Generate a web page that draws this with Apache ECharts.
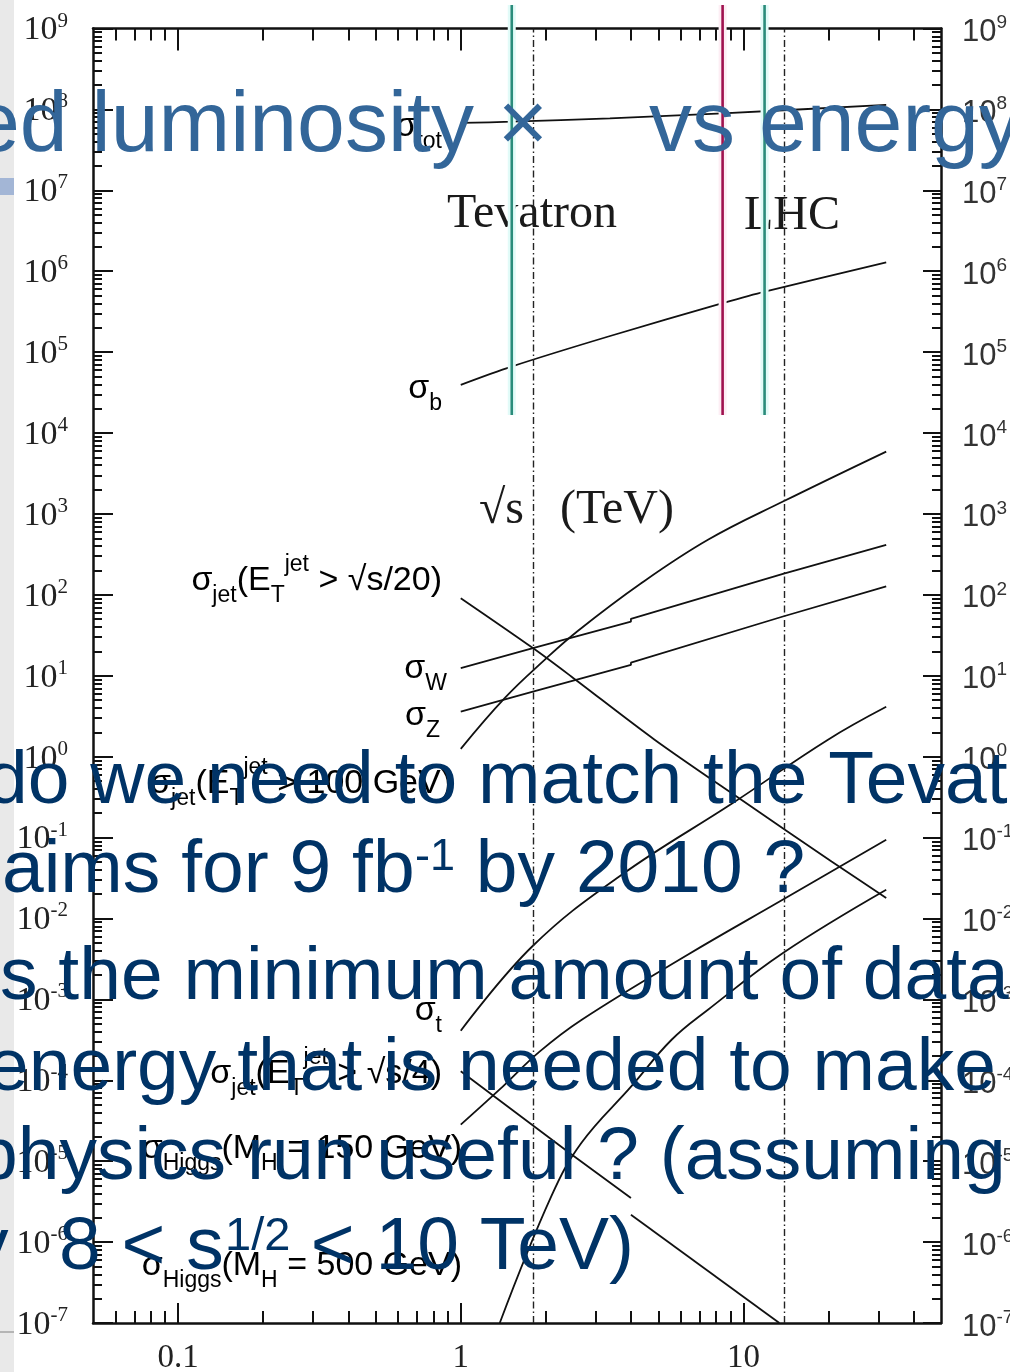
<!DOCTYPE html>
<html><head><meta charset="utf-8">
<script src="https://cdn.jsdelivr.net/npm/echarts@6/dist/echarts.min.js"></script>
<style>html,body{margin:0;padding:0;background:#fff}#c{width:1010px;height:1372px}</style>
</head><body><div id="c"></div>
<script>
// ---------- axis ticks ----------
const xMajorTicks = [0.1, 1, 10];
const xTickLabels = ['0.1', '1', '10'];
const xMinorTicks = [0.06,0.07,0.08,0.09,0.2,0.3,0.4,0.5,0.6,0.7,0.8,0.9,2,3,4,5,6,7,8,9,20,30,40];
const yDecades = [1e-7,1e-6,1e-5,1e-4,1e-3,1e-2,1e-1,1,1e1,1e2,1e3,1e4,1e5,1e6,1e7,1e8,1e9];
const yMinorMultipliers = [2,3,4,5,6,7,8,9];

// ---------- collider energies (TeV) ----------
const colliderEnergies = [1.8, 14];        // dashed lines: Tevatron, LHC
const markerEnergies = [1.515, 8.44, 11.88]; // coloured vertical markers
const markerLow = [1.67e4, 1.67e4, 1.67e4];
const markerHigh = [1.95e9, 1.95e9, 1.95e9];

// ---------- cross sections (nb) vs sqrt(s) (TeV) ----------
const sigmaTotE = [1.0, 1.51, 3.37, 8.44, 32];
const sigmaTotV = [6.8e7, 7.05e7, 7.76e7, 8.95e7, 1.135e8];
const sigmaBE = [1.0, 1.51, 3.33, 8.44, 11.9, 32];
const sigmaBV = [3.94e4, 6.62e4, 1.56e5, 4.02e5, 5.6e5, 1.29e6];
const jetS20E = [1.0, 1.8, 2.46, 4.85, 9.83, 20.5, 32];
const jetS20V = [91, 22, 9.8, 1.62, 0.293, 0.0507, 0.0179];
const sigmaWE = [1.0, 1.8, 4.0, 4.0, 13.8, 32];
const sigmaWV = [12.4, 22.0, 46.8, 50.5, 182, 415];
const sigmaZE = [1.0, 1.8, 4.0, 4.0, 13.8, 32];
const sigmaZV = [3.61, 6.38, 13.6, 14.5, 54.0, 127];
const jet100E = [1.0, 1.43, 1.98, 2.6, 4.36, 7.49, 13.8, 32];
const jet100V = [1.25, 5.3, 15.7, 36, 140, 479, 1422, 5900];
const sigmaTE = [1.0, 1.8, 3.71, 9.2, 19.85, 32];
const sigmaTV = [4.1e-4, 4.6e-3, 0.0347, 0.269, 1.61, 4.13];
const jetS4ppbarE = [1.0, 2.46, 4.0];
const jetS4ppbarV = [1.29e-4, 1.22e-5, 3.51e-6];
const jetS4ppE = [4.0, 13.4];
const jetS4ppV = [2.18e-6, 1.0e-7];
const higgs150E = [1.0, 1.37, 1.9, 2.68, 6.35, 13.76, 32];
const higgs150V = [2.83e-5, 7.65e-5, 2.26e-4, 5.61e-4, 3.56e-3, 0.0170, 0.094];
const higgs500E = [1.374, 2.09, 2.67, 4.01, 5.57, 7.49, 13.8, 32];
const higgs500V = [1e-7, 3.67e-6, 1.68e-5, 8.4e-5, 3.17e-4, 7.45e-4, 3.74e-3, 0.0226];

// ---------- build ----------
const L10 = Math.log10;
const zip = (xs, ys) => xs.map((x, i) => [x, ys[i]]);
const yMinorTicks = [];
yDecades.slice(0, -1).forEach(d => yMinorMultipliers.forEach(m => yMinorTicks.push(d * m)));

const curves = [
  [sigmaTotE, sigmaTotV, 0.3], [sigmaBE, sigmaBV, 0.3], [jetS20E, jetS20V, 0.3],
  [sigmaWE, sigmaWV, 0], [sigmaZE, sigmaZV, 0], [jet100E, jet100V, 0.4],
  [sigmaTE, sigmaTV, 0.4], [jetS4ppbarE, jetS4ppbarV, 0], [jetS4ppE, jetS4ppV, 0],
  [higgs150E, higgs150V, 0.4], [higgs500E, higgs500V, 0.4]
];

const series = curves.map(([e, v, sm], i) => ({
  type: 'line', xAxisIndex: 0, yAxisIndex: 0, data: zip(e, v),
  symbol: 'none', showSymbol: false, smooth: sm, clip: true, silent: true,
  lineStyle: { color: '#111', width: 1.8 }, z: 3, emphasis: { disabled: true },
  markLine: i === 0 ? {
    silent: true, symbol: ['none', 'none'], label: { show: false }, animation: false,
    lineStyle: { color: '#222', width: 1.4, type: [7, 3, 1.5, 3] },
    emphasis: { disabled: true },
    data: colliderEnergies.map(x => ({ xAxis: x }))
  } : undefined
}));

const markerColors = [
  { core: '#2b8c7b', glow: '#e2fbf8' },
  { core: '#a0124f', glow: '#fdeef4' },
  { core: '#2b8c7b', glow: '#e2fbf8' }
];
series.push({
  type: 'custom', xAxisIndex: 0, yAxisIndex: 0, z: 10, silent: true, clip: false,
  encode: { x: 0, y: [1, 2] },
  data: markerEnergies.map((x, i) => [x, markerLow[i], markerHigh[i]]),
  renderItem: function (params, api) {
    const p0 = api.coord([api.value(0), api.value(1)]);
    const p1 = api.coord([api.value(0), api.value(2)]);
    const c = markerColors[params.dataIndex];
    const shape = { x1: p0[0], y1: p0[1], x2: p1[0], y2: p1[1] };
    return { type: 'group', children: [
      { type: 'line', shape: shape, style: { stroke: c.glow, lineWidth: 8 } },
      { type: 'line', shape: shape, style: { stroke: c.core, lineWidth: 2.6 } }
    ] };
  }
});

const lx = [L10(0.05), L10(50)];
const ly = [L10(1e-7), L10(1e9)];
const frame = { color: '#111', width: 2.5 };
const tickStyle = { color: '#111', width: 2 };
const near = (arr, v) => arr.findIndex(t => Math.abs(L10(t) - v) < 1e-6);

function auxX(pos, len, ticks, withLine, withLabel) {
  return {
    type: 'value', min: lx[0], max: lx[1], position: pos, gridIndex: 0,
    axisLine: { show: withLine, onZero: false, lineStyle: frame },
    axisTick: { show: true, inside: true, length: len, customValues: ticks.map(L10), lineStyle: tickStyle },
    axisLabel: withLabel ? {
      show: true, customValues: ticks.map(L10), margin: 19,
      fontFamily: 'Liberation Serif', fontSize: 33, color: '#222',
      formatter: v => xTickLabels[near(xMajorTicks, v)]
    } : { show: false },
    splitLine: { show: false }
  };
}
function auxY(pos, len, ticks, withLine, labelKind) {
  let axisLabel = { show: false };
  if (labelKind === 'serif') {
    axisLabel = {
      show: true, customValues: ticks.map(L10), margin: 25, padding: [4, 0, 0, 0],
      formatter: v => '{b|10}{e|' + Math.round(v) + '}',
      rich: {
        b: { fontFamily: 'Liberation Serif', fontSize: 34, lineHeight: 40, color: '#222' },
        e: { fontFamily: 'Liberation Serif', fontSize: 21, lineHeight: 20, verticalAlign: 'top', color: '#222' }
      }
    };
  } else if (labelKind === 'sans') {
    axisLabel = {
      show: true, customValues: ticks.map(L10), margin: 21, padding: [8, 0, 0, 0],
      formatter: v => '{b|10}{e|' + Math.round(v) + '}',
      rich: {
        b: { fontFamily: 'Liberation Sans', fontSize: 31, lineHeight: 38, color: '#333' },
        e: { fontFamily: 'Liberation Sans', fontSize: 19, lineHeight: 19, verticalAlign: 'top', color: '#333' }
      }
    };
  }
  return {
    type: 'value', min: ly[0], max: ly[1], position: pos, gridIndex: 0,
    axisLine: { show: withLine, onZero: false, lineStyle: frame },
    axisTick: { show: true, inside: true, length: len, customValues: ticks.map(L10), lineStyle: tickStyle },
    axisLabel: axisLabel,
    splitLine: { show: false }
  };
}

// ---------- labels ----------
const rich = {
  m: { fontFamily: 'Liberation Sans', fontSize: 34, lineHeight: 54, color: '#1a1a1a' },
  s: { fontFamily: 'Liberation Sans', fontSize: 23, lineHeight: 23, verticalAlign: 'bottom', color: '#1a1a1a' },
  p: { fontFamily: 'Liberation Sans', fontSize: 23, lineHeight: 28, verticalAlign: 'top', color: '#1a1a1a' }
};
const curveLabels = [
  ['{m|σ}{s|tot}', 442, 138],
  ['{m|σ}{s|b}', 442, 400],
  ['{m|σ}{s|jet}{m|(E}{s|T}{p|jet}{m| > √s/20)}', 442, 592],
  ['{m|σ}{s|W}', 447, 680],
  ['{m|σ}{s|Z}', 440, 727],
  ['{m|σ}{s|jet}{m|(E}{s|T}{p|jet}{m| > 100 GeV)}', 452, 795],
  ['{m|σ}{s|t}', 442, 1022],
  ['{m|σ}{s|jet}{m|(E}{s|T}{p|jet}{m| > √s/4)}', 442, 1085],
  ['{m|σ}{s|Higgs}{m|(M}{s|H}{m| = 150 GeV)}', 462, 1160],
  ['{m|σ}{s|Higgs}{m|(M}{s|H}{m| = 500 GeV)}', 462, 1277]
];
const graphics = [
  { type: 'rect', z: 0, shape: { x: 0, y: 0, width: 14, height: 1372 }, style: { fill: '#e9e9e9' } },
  { type: 'rect', z: 0, shape: { x: 0, y: 1331, width: 14, height: 2 }, style: { fill: '#b5b5b5' } },
  { type: 'rect', z: 0, shape: { x: 0, y: 178, width: 14, height: 17 }, style: { fill: '#a3b6d6' } }
];
curveLabels.forEach(([t, x, b]) => graphics.push({
  type: 'text', z: 5, x: x, y: b - 11.8, silent: true,
  style: { text: t, rich: rich, align: 'right', textAlign: 'right', verticalAlign: 'middle', textVerticalAlign: 'middle' }
}));
function txt(t, x, baseline, size, family, color, z, extra) {
  const k = family.indexOf('Serif') >= 0 ? 0.3375 : 0.3465;
  return Object.assign({
    type: 'text', z: z, x: x, y: baseline - k * size, silent: true,
    style: { text: t, font: size + 'px "' + family + '"', fill: color,
      align: 'left', textAlign: 'left', verticalAlign: 'middle', textVerticalAlign: 'middle' }
  }, extra || {});
}
function boxed(t, x, baseline, pad, align) {
  const g = txt(t, x, baseline, 48, 'Liberation Serif', '#1a1a1a', 5);
  g.style.backgroundColor = '#ffffff';
  g.style.padding = pad;
  g.style.align = align; g.style.textAlign = align;
  return g;
}
graphics.push(boxed('Tevatron', 532, 231, [12, 4, 12, 4], 'center'));
graphics.push(boxed('LHC', 792, 233, [12, 4, 12, 4], 'center'));
graphics.push(boxed('√s   (TeV)', 473, 527, [10, 6, 18, 6], 'left'));

const blue = '#336699', navy = '#003366', SANS = 'Liberation Sans';
graphics.push(txt('ed luminosity ×', -28, 156.7, 86, SANS, blue, 20));
graphics.push(txt('vs energy', 649, 156.7, 86, SANS, blue, 20));
graphics.push(txt('do we need to match the Tevat', -14, 808.3, 75, SANS, navy, 20));
graphics.push(txt('aims for 9 fb', 2, 897.5, 75, SANS, navy, 20));
graphics.push(txt('-1', 415, 873, 45, SANS, navy, 20));
graphics.push(txt(' by 2010 ?', 455, 897.5, 75, SANS, navy, 20));
graphics.push(txt('s the minimum amount of data', 0, 1004, 75, SANS, navy, 20));
graphics.push(txt('energy that is needed to make', -13, 1095, 75, SANS, navy, 20));
graphics.push(txt('physics run useful ? (assuming', -24, 1184, 75, SANS, navy, 20));
graphics.push(txt('y', -29, 1274, 75, SANS, navy, 20));
graphics.push(txt('8 < s', 59, 1274, 75, SANS, navy, 20));
graphics.push(txt('1/2', 225, 1253, 47, SANS, navy, 20));
graphics.push(txt(' < 10 TeV)', 290, 1274, 75, SANS, navy, 20));

const option = {
  backgroundColor: '#ffffff',
  animation: false,
  grid: { left: 93, right: 69, top: 28.5, bottom: 49, containLabel: false, outerBoundsMode: 'none' },
  xAxis: [
    { type: 'log', min: 0.05, max: 50, show: false, gridIndex: 0, axisLine: { onZero: false } },
    auxX('bottom', 20, xMajorTicks, true, true),
    auxX('bottom', 12, xMinorTicks, false, false),
    auxX('top', 22, xMajorTicks, true, false),
    auxX('top', 12, xMinorTicks, false, false)
  ],
  yAxis: [
    { type: 'log', min: 1e-7, max: 1e9, show: false, gridIndex: 0, axisLine: { onZero: false } },
    auxY('left', 20, yDecades, true, 'serif'),
    auxY('left', 9, yMinorTicks, false, null),
    auxY('right', 18, yDecades, true, 'sans'),
    auxY('right', 9, yMinorTicks, false, null)
  ],
  series: series,
  graphic: { elements: graphics }
};
const chart = echarts.init(document.getElementById('c'), null, { renderer: 'canvas' });
chart.setOption(option);
</script></body></html>
